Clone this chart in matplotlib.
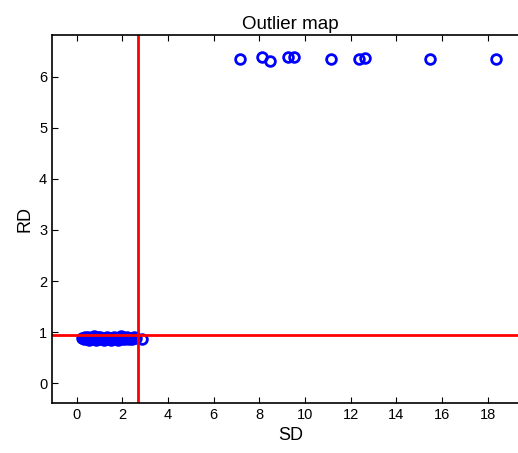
import matplotlib
matplotlib.use("Agg")
import matplotlib.pyplot as plt

# robust distance vs score distance for each observation
sd_regular = [0.22, 0.30, 0.38, 0.45, 0.50, 0.55, 0.62, 0.68, 0.74, 0.80,
              0.86, 0.92, 0.98, 1.04, 1.10, 1.15, 1.21, 1.27, 1.33, 1.38,
              1.44, 1.50, 1.56, 1.62, 1.68, 1.74, 1.80, 1.86, 1.92, 1.98,
              2.04, 2.10, 2.16, 2.22, 2.28, 2.35, 2.42, 2.50, 2.58, 2.87]
rd_regular = [0.88, 0.86, 0.90, 0.87, 0.91, 0.85, 0.89, 0.86, 0.92, 0.88,
              0.85, 0.90, 0.87, 0.91, 0.86, 0.89, 0.84, 0.88, 0.91, 0.86,
              0.89, 0.85, 0.88, 0.90, 0.86, 0.88, 0.85, 0.89, 0.92, 0.87,
              0.90, 0.86, 0.88, 0.91, 0.87, 0.89, 0.86, 0.90, 0.88, 0.87]

sd_outlier = [7.15, 8.10, 8.47, 9.27, 9.52, 11.13, 12.38, 12.63, 15.48, 18.37]
rd_outlier = [6.35, 6.38, 6.32, 6.38, 6.38, 6.34, 6.35, 6.37, 6.34, 6.34]

sd_cutoff = 2.67
rd_cutoff = 0.94

fig = plt.figure(figsize=(5.18, 4.53), dpi=100)
plt.rcParams['font.family'] = ['Liberation Sans', 'DejaVu Sans']
ax = fig.add_axes([52 / 518, 50 / 453, 477 / 518, 368 / 453])

sd_all = sd_regular + sd_outlier
rd_all = rd_regular + rd_outlier
ax.plot(sd_all, rd_all, 'o', markerfacecolor='none', markeredgecolor='blue',
        markeredgewidth=2, markersize=7)

ax.axvline(sd_cutoff, color='red', linewidth=2)
ax.axhline(rd_cutoff, color='red', linewidth=2)

ax.set_xlim(-1.08, 19.8)
ax.set_ylim(-0.39, 6.82)
ax.set_xticks(range(0, 19, 2))
ax.set_yticks(range(0, 7))
ax.tick_params(direction='in', top=True, right=True, length=4, labelsize=10.5)
for s in ax.spines.values():
    s.set_linewidth(1.2)

ax.set_xlabel('SD', fontsize=13)
ax.set_ylabel('RD', fontsize=13)
ax.set_title('Outlier map', fontsize=13.5, pad=4)

fig.savefig('out.png', dpi=100)
